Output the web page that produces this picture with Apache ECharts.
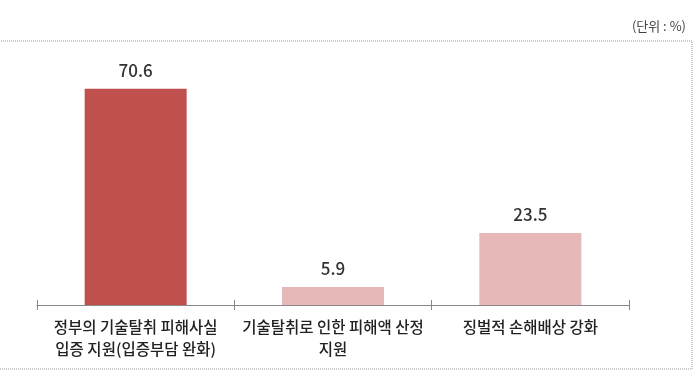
<!DOCTYPE html>
<html><head><meta charset="utf-8">
<script src="https://cdn.jsdelivr.net/npm/echarts@6/dist/echarts.min.js"></script>
<style>html,body{margin:0;padding:0;background:#fff}#c{width:700px;height:380px}</style>
</head><body><div id="c"></div>
<script>
const categories = ['정부의 기술탈취 피해사실\n입증 지원(입증부담 완화)', '기술탈취로 인한 피해액 산정\n지원', '징벌적 손해배상 강화'];
const values = [70.6, 5.9, 23.5];
const barColors = ['#C0504D', '#E6B8B7', '#E6B8B7'];
const unitText = '(단위 : %)';

const chart = echarts.init(document.getElementById('c'));
const font = '"Noto Sans CJK KR", "Noto Sans", sans-serif';
chart.setOption({
  animation: false,
  textStyle: { fontFamily: font },
  graphic: [
    { type: 'rect', shape: { x: -5, y: 41, width: 697, height: 328 },
      style: { fill: 'none', stroke: '#999', lineWidth: 1, lineDash: [1, 1] } },
    { type: 'text', right: 14, top: 20,
      style: { text: unitText, font: '13px ' + font, fill: '#444' } }
  ],
  grid: { left: 37, right: 71, top: 60, bottom: 75 },
  xAxis: [{
    type: 'category', data: categories,
    axisLine: { show: true, lineStyle: { color: '#888', width: 1 } },
    axisTick: { show: true, length: 5, lineStyle: { color: '#888' } },
    axisLabel: { color: '#222', fontSize: 15.5, fontWeight: 500, lineHeight: 22, margin: 11, interval: 0 }
  }, {
    type: 'category', data: categories, position: 'bottom',
    axisLine: { show: false },
    axisTick: { show: true, inside: true, length: 5, lineStyle: { color: '#888' } },
    axisLabel: { show: false }
  }],
  yAxis: { type: 'value', min: 0, max: 80, show: false, splitLine: { show: false } },
  series: [{
    type: 'bar', barWidth: 102,
    data: values.map((v, i) => ({ value: v, itemStyle: { color: barColors[i] } })),
    label: { show: true, position: 'top', distance: 10, color: '#333', fontSize: 17, fontWeight: 500, fontFamily: font }
  }]
});
</script></body></html>
